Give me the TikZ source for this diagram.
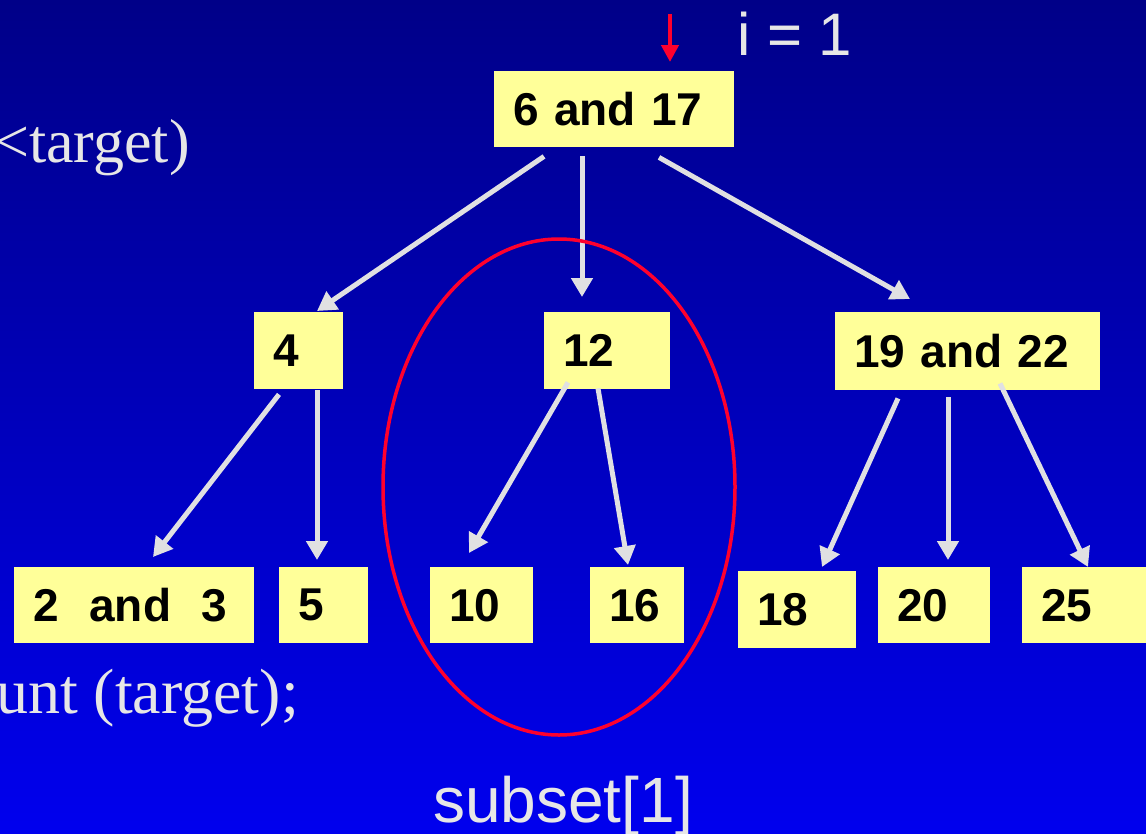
\documentclass[tikz,border=0pt]{standalone}
\usepackage{fontspec}
\setmainfont{Liberation Sans}
\newfontfamily\slideserif{Liberation Serif}
\usetikzlibrary{arrows.meta,calc}
\definecolor{SlideTop}{RGB}{0,0,136}
\definecolor{SlideBottom}{RGB}{0,0,238}
\definecolor{KeyYellow}{RGB}{255,255,153}
\definecolor{ArrowGray}{RGB}{224,224,226}
\definecolor{LabelGray}{RGB}{230,230,230}
\definecolor{MarkRed}{RGB}{255,0,45}

\begin{document}
\begin{tikzpicture}[x=1pt, y=-1pt,
  keybox/.style={fill=KeyYellow, anchor=north west, inner xsep=19pt, inner ysep=0pt, minimum height=76pt, align=left, font=\bfseries\fontsize{46}{46}\selectfont},
  treearrow/.style={draw=ArrowGray, line width=5pt, -{Triangle[length=19pt,width=21pt]}},
  slidetext/.style={text=LabelGray, inner sep=0pt}]
\useasboundingbox (0,0) rectangle (1146,833);
\shade[top color=SlideTop, bottom color=SlideBottom] (0,0) rectangle (1146,833);
\clip (0,0) rectangle (1146,833);

% code lines cut off at the left edge
\node[slidetext, anchor=base east, font=\slideserif\fontsize{62}{62}\selectfont] (loopcond) at (190,162) {<target)};
\node[slidetext, anchor=base east, font=\slideserif\fontsize{64}{64}\selectfont] (countcall) at (299,713) {unt (target);};

% the tree
\node[keybox, text width=202pt] (root) at (494,71) {6 and 17};
\node[keybox, text width=51pt, minimum height=77pt] (four) at (254,312) {4};
\node[keybox, text width=88pt, minimum height=77pt] (twelve) at (544,312) {12};
\node[keybox, text width=227pt, minimum height=78pt] (nineteen) at (835,312) {19 and 22};
\node[keybox, text width=202pt] (twothree) at (14,567) {2\ \ and\ \ 3};
\node[keybox, text width=51pt] (five) at (279,567) {5};
\node[keybox, text width=65pt] (ten) at (430,567) {10};
\node[keybox, text width=56pt] (sixteen) at (590,567) {16};
\node[keybox, text width=80pt, minimum height=77pt] (eighteen) at (738,571) {18};
\node[keybox, text width=74pt] (twenty) at (878,567) {20};
\node[keybox, text width=92pt] (twentyfive) at (1022,567) {25};

\draw[treearrow] ([shift={(50,9)}]root.south west) -- ([shift={(63,-1)}]four.north west);
\draw[treearrow] ([shift={(88,9)}]root.south west) -- ([shift={(38,-15)}]twelve.north west);
\draw[treearrow] ([shift={(165,10)}]root.south west) -- ([shift={(75,-13)}]nineteen.north west);
\draw[treearrow] ([shift={(25,5)}]four.south west) -- ([shift={(139,-10)}]twothree.north west);
\draw[treearrow] ([shift={(63,1)}]four.south west) -- ([shift={(38,-7)}]five.north west);
\draw[treearrow] ([shift={(24,-7)}]twelve.south west) -- ([shift={(39,-14)}]ten.north west);
\draw[treearrow] ([shift={(54,-1)}]twelve.south west) -- ([shift={(38,-2)}]sixteen.north west);
\draw[treearrow] ([shift={(63,8)}]nineteen.south west) -- ([shift={(84,-4)}]eighteen.north west);
\draw[treearrow] ([shift={(113,7)}]nineteen.south west) -- ([shift={(70,-7)}]twenty.north west);
\draw[treearrow] ([shift={(165,-7)}]nineteen.south west) -- ([shift={(66,0)}]twentyfive.north west);

% current subset
\draw[MarkRed, line width=3.5pt] (559,487) ellipse [x radius=176pt, y radius=248pt];
\coordinate (pointer) at (670,14);
\draw[MarkRed, line width=4.5pt, -{Triangle[length=17pt,width=17pt]}] (pointer) -- ([shift={(176,-9)}]root.north west);

\node[slidetext, anchor=base west, font=\fontsize{60}{60}\selectfont] (ilabel) at (737,55) {i = 1};
\node[slidetext, anchor=base west, font=\fontsize{64}{64}\selectfont] (subsetlabel) at (433,822) {subset[1]};
\end{tikzpicture}
\end{document}
